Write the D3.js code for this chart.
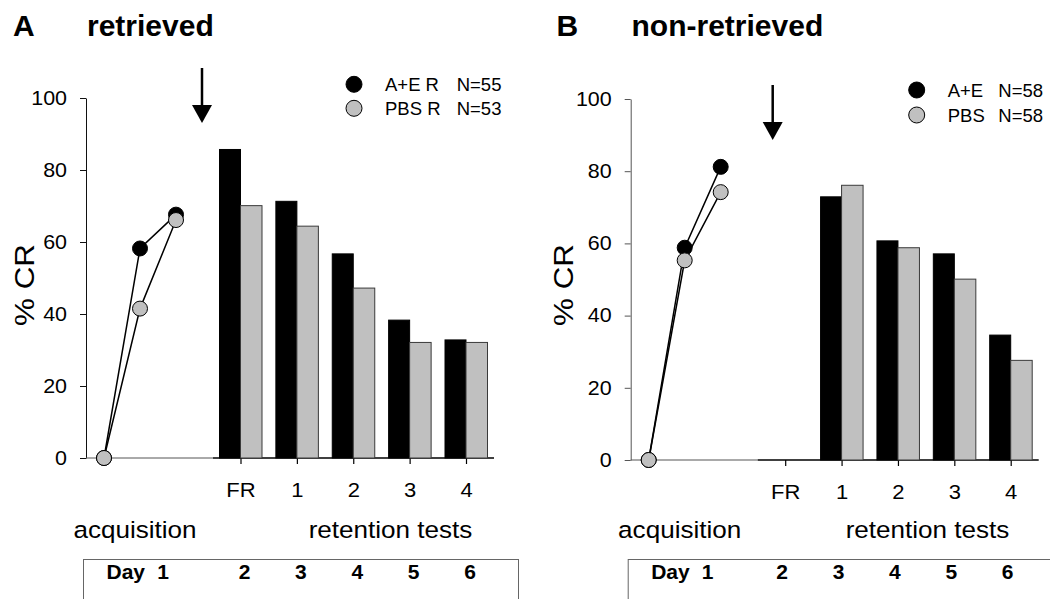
<!DOCTYPE html>
<html>
<head>
<meta charset="utf-8">
<script src="https://cdn.jsdelivr.net/npm/d3@7"></script>
<style>
  body { margin: 0; background: #fff; }
  svg { display: block; font-family: "Liberation Sans", Arial, sans-serif; }
</style>
</head>
<body>
<svg width="1050" height="599"></svg>
<script>
// data
var dayLabels = ["1", "2", "3", "4", "5", "6"];
var testCats = ["FR", "1", "2", "3", "4"];
var acqSteps = [0, 1, 2];
var yTicks = [0, 20, 40, 60, 80, 100];

var acqA_AE = [0, 58.2, 67.6];
var acqA_PBS = [0, 41.5, 66.1];
var retA_AE = [85.7, 71.3, 56.7, 38.3, 32.8];
var retA_PBS = [70.1, 64.4, 47.2, 32.1, 32.1];

var acqB_AE = [0, 58.8, 81.2];
var acqB_PBS = [0, 55.3, 74.2];
var retB_AE = [null, 72.9, 60.7, 57.1, 34.6];
var retB_PBS = [null, 76.1, 58.8, 50.1, 27.6];

var svg = d3.select("svg");
var GRAY = "#c0c0c0";

// text with a slight horizontal stretch (the original font runs wide)
function txt(g, x, y, s, size, o) {
  o = o || {};
  return g.append("text")
    .attr("transform", "translate(" + x + "," + y + ")" + (o.rot ? " rotate(" + o.rot + ")" : "") + " scale(" + (o.sx || 1) + ",1)")
    .attr("text-anchor", o.anchor || "start")
    .style("font-size", size + "px")
    .style("font-weight", o.bold ? "bold" : "normal")
    .attr("fill", "#000")
    .text(s);
}

function drawPanel(p) {
  var g = svg.append("g").attr("transform", "translate(" + p.ox + ",0)");

  var y = d3.scaleLinear().domain([0, 100]).range([p.y0, p.y1]);
  var xa = d3.scaleLinear().domain([0, 2]).range([18, 90]);
  var xb = d3.scalePoint().domain(testCats).range([154.5, 380]);
  var bw = 21;

  // title
  txt(svg, p.letterX, 36, p.letter, 30, {bold: true});
  txt(svg, p.titleX, 36, p.title, 30, {bold: true});

  // y axis
  var ya = g.append("g")
    .call(d3.axisLeft(y).tickValues(yTicks).tickSize(6).tickSizeOuter(0).tickPadding(11.3));
  ya.select(".domain").attr("stroke", p.axisCol);
  ya.selectAll(".tick line").attr("stroke", p.axisCol);
  ya.selectAll(".tick text")
    .attr("transform", "scale(1.1,1)")
    .attr("fill", "#000")
    .style("font-size", "19.5px")
    .style("font-family", "Liberation Sans, Arial, sans-serif");

  txt(g, p.cry - p.ox, 285, "% CR", 28.5, {rot: -90, anchor: "middle", sx: 1.1});

  // baseline under acquisition points
  g.append("line")
    .attr("x1", 0).attr("x2", 127)
    .attr("y1", y(0)).attr("y2", y(0))
    .attr("stroke", "#555").attr("stroke-width", 1);

  // bar section axis
  g.append("line")
    .attr("x1", 127).attr("x2", 408)
    .attr("y1", y(0)).attr("y2", y(0))
    .attr("stroke", "#000").attr("stroke-width", 1.5);

  var xax = g.append("g")
    .attr("transform", "translate(0," + y(0) + ")")
    .call(d3.axisBottom(xb).tickSize(6).tickSizeOuter(0).tickPadding(18.5));
  xax.select(".domain").remove();
  xax.selectAll(".tick line").attr("stroke", "#000").attr("stroke-width", 1.2);
  xax.selectAll(".tick text")
    .attr("transform", "scale(1.1,1)")
    .attr("fill", "#000")
    .style("font-size", "20px")
    .style("font-family", "Liberation Sans, Arial, sans-serif");

  // bars
  var bars = testCats.map(function(c, i) { return {c: c, ae: p.retAE[i], pbs: p.retPBS[i]}; })
    .filter(function(d) { return d.ae != null; });

  g.selectAll(".bar-ae").data(bars).enter().append("rect")
    .attr("class", "bar-ae")
    .attr("x", function(d) { return xb(d.c) - bw; })
    .attr("y", function(d) { return y(d.ae); })
    .attr("width", bw)
    .attr("height", function(d) { return y(0) - y(d.ae); })
    .attr("fill", "#000").attr("stroke", "#000").attr("stroke-width", 1);

  g.selectAll(".bar-pbs").data(bars).enter().append("rect")
    .attr("class", "bar-pbs")
    .attr("x", function(d) { return xb(d.c); })
    .attr("y", function(d) { return y(d.pbs); })
    .attr("width", bw + 0.5)
    .attr("height", function(d) { return y(0) - y(d.pbs); })
    .attr("fill", GRAY).attr("stroke", "#3a3a3a").attr("stroke-width", 1);

  // acquisition lines
  var line = d3.line()
    .x(function(d, i) { return xa(acqSteps[i]); })
    .y(function(d) { return y(d); });

  g.append("path").attr("d", line(p.acqAE))
    .attr("fill", "none").attr("stroke", "#000").attr("stroke-width", 1.5);
  g.append("path").attr("d", line(p.acqPBS))
    .attr("fill", "none").attr("stroke", "#000").attr("stroke-width", 1.5);

  g.selectAll(".pt-ae").data(p.acqAE).enter().append("circle")
    .attr("cx", function(d, i) { return xa(acqSteps[i]); })
    .attr("cy", function(d) { return y(d); })
    .attr("r", 7.5).attr("fill", "#000").attr("stroke", "#000");
  g.selectAll(".pt-pbs").data(p.acqPBS).enter().append("circle")
    .attr("cx", function(d, i) { return xa(acqSteps[i]); })
    .attr("cy", function(d) { return y(d); })
    .attr("r", 7.5).attr("fill", GRAY).attr("stroke", "#000");

  // arrow marking the retrieval / no-retrieval day
  g.append("line")
    .attr("x1", p.arrowX).attr("x2", p.arrowX)
    .attr("y1", p.arrowTop).attr("y2", p.arrowTip - 14)
    .attr("stroke", "#000").attr("stroke-width", 2.5);
  g.append("path")
    .attr("d", "M" + (p.arrowX - 10) + "," + (p.arrowTip - 18) + "L" + (p.arrowX + 10) + "," + (p.arrowTip - 18) + "L" + p.arrowX + "," + p.arrowTip + "Z")
    .attr("fill", "#000");

  // legend
  p.legend.forEach(function(l, i) {
    var ly = p.legY + i * p.legStep;
    g.append("circle").attr("cx", p.legX).attr("cy", ly).attr("r", 8)
      .attr("fill", i == 0 ? "#000" : GRAY).attr("stroke", "#000");
    txt(g, p.legX + 31, ly + 6.5, l[0], 18.5);
    txt(g, p.legX + p.legNx, ly + 6.5, l[1], 18.5);
  });

  // phase labels
  txt(g, 49, 538, "acquisition", 23.5, {anchor: "middle", sx: 1.11});
  txt(g, p.retX, 538, "retention tests", 23.5, {anchor: "middle", sx: 1.11});

  // day box
  g.append("rect")
    .attr("x", -2.5).attr("y", 559.5)
    .attr("width", p.boxW).attr("height", 80)
    .attr("fill", "none").attr("stroke", "#666").attr("stroke-width", 1);
  txt(g, 20.5, 578.5, "Day", 21, {bold: true});
  txt(g, 77, 578.5, dayLabels[0], 21, {bold: true, anchor: "middle"});
  testCats.forEach(function(c, i) {
    txt(g, xb(c) + p.dayShift, 578.5, dayLabels[i + 1], 21, {bold: true, anchor: "middle"});
  });
}

drawPanel({
  ox: 86, y0: 458, y1: 98, axisCol: "#111",
  letter: "A", letterX: 13, title: "retrieved", titleX: 87,
  cry: 33.5,
  retAE: retA_AE, retPBS: retA_PBS, acqAE: acqA_AE, acqPBS: acqA_PBS,
  arrowX: 116, arrowTop: 68, arrowTip: 123,
  legX: 268, legY: 84.3, legStep: 24, legNx: 102.7,
  legend: [["A+E R", "N=55"], ["PBS R", "N=53"]],
  retX: 304.5, boxW: 435, dayShift: 4
});

drawPanel({
  ox: 630.7, y0: 460, y1: 99, axisCol: "#555",
  letter: "B", letterX: 556.5, title: "non-retrieved", titleX: 631.5,
  cry: 573,
  retAE: retB_AE, retPBS: retB_PBS, acqAE: acqB_AE, acqPBS: acqB_PBS,
  arrowX: 142, arrowTop: 85, arrowTip: 140,
  legX: 286, legY: 90, legStep: 25, legNx: 81.6,
  legend: [["A+E", "N=58"], ["PBS", "N=58"]],
  retX: 296.8, boxW: 500, dayShift: -3
});
</script>
</body>
</html>
